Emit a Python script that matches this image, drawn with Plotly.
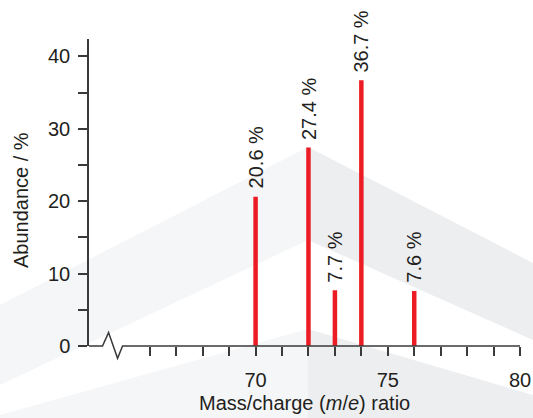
import plotly.graph_objects as go

# ---- data ----
masses = [70, 72, 73, 74, 76]
abundance = [20.6, 27.4, 7.7, 36.7, 7.6]
bar_labels = ["20.6 %", "27.4 %", "7.7 %", "36.7 %", "7.6 %"]
x_tick_vals = list(range(66, 81))
x_tick_text = ["70" if v == 70 else "75" if v == 75 else "80" if v == 80 else "" for v in x_tick_vals]
y_tick_vals = list(range(0, 41, 5))
y_tick_text = [str(v) if v % 10 == 0 else "" for v in y_tick_vals]

X_RANGE = [63.7, 80]
Y_RANGE = [0, 42.4]

FONT = "Liberation Sans, Arial, sans-serif"
TXT = "#231f20"
AX = "#3a3a3a"
RED = "#ec1c24"

W, H = 533, 418
ML, MR, MT, MB = 89, 13, 39, 72
PW, PH = W - ML - MR, H - MT - MB


def px2paper(px, py):
    return (px - ML) / PW, (H - MB - py) / PH


def xd(v):
    return (v - X_RANGE[0]) / (X_RANGE[1] - X_RANGE[0])


def yd(v):
    return (v - Y_RANGE[0]) / (Y_RANGE[1] - Y_RANGE[0])


fig = go.Figure()
fig.add_trace(go.Bar(x=masses, y=abundance, width=0.17,
                     marker=dict(color=RED, line=dict(width=0)),
                     hoverinfo="x+y"))

# bar value labels
for m, a, t in zip(masses, abundance, bar_labels):
    fig.add_annotation(x=m, y=a, text=t, textangle=-90, showarrow=False,
                       xanchor="center", yanchor="bottom", yshift=6,
                       font=dict(family=FONT, size=20, color=TXT))

# background watermark (decorative chevrons), pixel coords
def poly(pts, color):
    path = ""
    for i, (px, py) in enumerate(pts):
        x, y = px2paper(px, py)
        path += ("M" if i == 0 else "L") + f"{x:.4f},{y:.4f} "
    path += "Z"
    fig.add_shape(type="path", path=path, xref="paper", yref="paper",
                  fillcolor=color, line=dict(width=0), layer="below")

LIGHT = "#f5f6f8"
DARK = "#edeef0"
poly([(0, 305), (308, 147), (308, 240), (0, 385)], LIGHT)
poly([(308, 147), (533, 263), (533, 340), (308, 240)], DARK)
poly([(0, 415), (308, 329), (308, 418), (0, 418)], LIGHT)
poly([(308, 329), (533, 395), (533, 418), (308, 418)], DARK)

# x-axis line with break symbol (in axis-domain units)
brk = [(X_RANGE[0], 0), (64.21, 0), (64.44, 1.85), (64.78, -1.7), (64.97, 0), (X_RANGE[1], 0)]
path = ""
for i, (xv, yv) in enumerate(brk):
    path += ("M" if i == 0 else "L") + f"{xd(xv):.5f},{yd(yv):.5f} "
fig.add_shape(type="path", path=path, xref="x domain", yref="y domain",
              line=dict(color=AX, width=1.5), layer="above")

# axis titles
tx, ty = px2paper(304.5, 403)
fig.add_annotation(x=tx, y=ty, xref="paper", yref="paper", showarrow=False,
                   text="Mass/charge (<i>m</i>/<i>e</i>) ratio",
                   xanchor="center", yanchor="middle",
                   font=dict(family=FONT, size=20, color=TXT))
tx, ty = px2paper(21, 200)
fig.add_annotation(x=tx, y=ty, xref="paper", yref="paper", showarrow=False,
                   text="Abundance / %", textangle=-90,
                   xanchor="center", yanchor="middle",
                   font=dict(family=FONT, size=20, color=TXT))

fig.update_layout(
    width=W, height=H, autosize=False,
    margin=dict(l=ML, r=MR, t=MT, b=MB, pad=0),
    paper_bgcolor="white", plot_bgcolor="rgba(0,0,0,0)",
    showlegend=False,
    font=dict(family=FONT, size=20, color=TXT),
    xaxis=dict(range=X_RANGE, showgrid=False, zeroline=False, showline=False,
               automargin=False,
               tickmode="array", tickvals=x_tick_vals, ticktext=x_tick_text,
               ticks="outside", ticklen=9, tickwidth=1.5, tickcolor=AX,
               ticklabelstandoff=7,
               tickfont=dict(family=FONT, size=20, color=TXT)),
    yaxis=dict(range=Y_RANGE, showgrid=False, zeroline=False, showline=True,
               automargin=False,
               linecolor=AX, linewidth=1.5,
               tickmode="array", tickvals=y_tick_vals, ticktext=y_tick_text,
               ticks="outside", ticklen=9, tickwidth=1.5, tickcolor=AX,
               ticklabelstandoff=4,
               tickfont=dict(family=FONT, size=20, color=TXT)),
)

fig.write_html(
    "out.html",
    config={"displayModeBar": False},
    post_script="document.body.style.margin='0';document.body.style.overflow='hidden';",
)
